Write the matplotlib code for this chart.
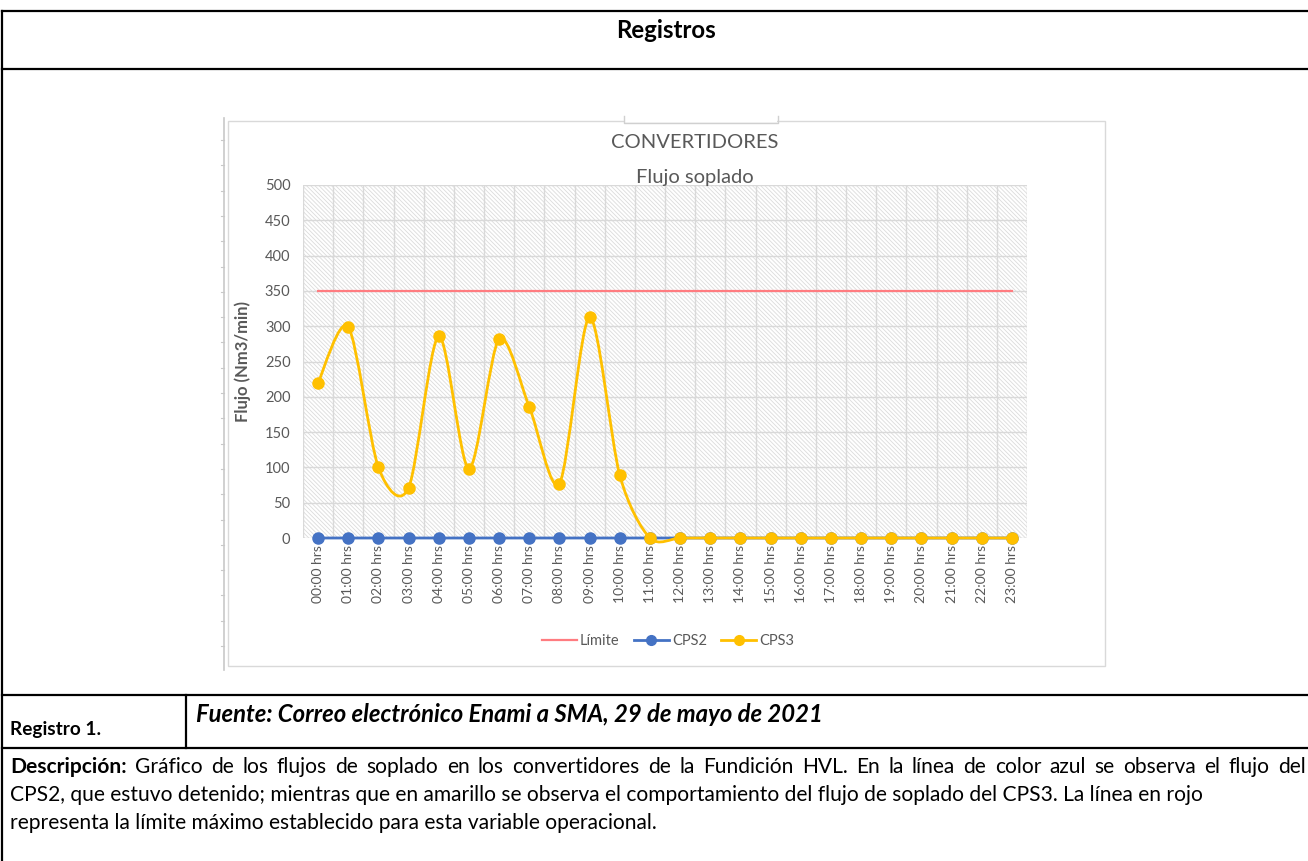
import numpy as np
import matplotlib
matplotlib.use("Agg")
import matplotlib.pyplot as plt
from matplotlib.path import Path
from matplotlib.patches import PathPatch, Rectangle
from matplotlib.lines import Line2D

plt.rcParams['font.family'] = ['Lato', 'DejaVu Sans']
plt.rcParams['hatch.linewidth'] = 0.6

W, H = 1308, 861

# datos del grafico
horas = ["%02d:00 hrs" % h for h in range(24)]
limite = [350] * 24
cps2 = [0] * 24
cps3 = [220, 299, 100, 71, 286, 98, 282, 186, 77, 313, 89, 0,
        0, 0, 0, 0, 0, 0, 0, 0, 0, 0, 0, 0]

titulo = ["CONVERTIDORES", "Flujo soplado"]
ylabel = "Flujo (Nm3/min)"
desc_bold = "Descripción:"
desc_lines = [
    "Gráfico de los flujos de soplado en los convertidores de la Fundición HVL. En la línea de color azul se observa el flujo del",
    "CPS2, que estuvo detenido; mientras que en amarillo se observa el comportamiento del flujo de soplado del CPS3. La línea en rojo",
    "representa la límite máximo establecido para esta variable operacional.",
]

GRAY = '#595959'
RED = '#FF7C80'
BLUE = '#4472C4'
YELLOW = '#FFC000'


def fx(x):
    return x / W


def fy(y):
    return 1 - y / H


def smooth_path(xs, ys, k=7.0):
    # curva suavizada tipo Excel (bezier)
    pts = np.column_stack([xs, ys]).astype(float)
    n = len(pts)
    verts = [pts[0]]
    codes = [Path.MOVETO]
    for i in range(n - 1):
        p0 = pts[max(i - 1, 0)]
        p1 = pts[i]
        p2 = pts[i + 1]
        p3 = pts[min(i + 2, n - 1)]
        c1 = p1 + (p2 - p0) / k
        c2 = p2 - (p3 - p1) / k
        verts += [c1, c2, p2]
        codes += [Path.CURVE4] * 3
    return Path(verts, codes)


fig = plt.figure(figsize=(W / 100, H / 100), dpi=100)
renderer = fig.canvas.get_renderer()


def width(t):
    return t.get_window_extent(renderer).width


def fit(t, target):
    t.set_fontsize(t.get_fontsize() * target / width(t))
    return t


# marco de la tabla del documento
def hline(y, x0, x1, **kw):
    fig.add_artist(Line2D([fx(x0), fx(x1)], [fy(y), fy(y)], **kw))


def vline(x, y0, y1, **kw):
    fig.add_artist(Line2D([fx(x), fx(x)], [fy(y0), fy(y1)], **kw))

tab = dict(color='black', lw=1.6, solid_capstyle='projecting')
hline(11, 2, W + 5, **tab)
hline(69, 2, W + 5, **tab)
hline(695, 2, W + 5, **tab)
hline(748, 2, W + 5, **tab)
vline(2, 11, H + 5, **tab)
vline(186, 695, 748, **tab)

fit(fig.text(fx(666), fy(30), "Registros", ha='center', va='center',
             fontsize=12, fontweight='bold'), 99)

# caja del grafico
fig.add_artist(Rectangle((fx(228), fy(666)), fx(1105) - fx(228), fy(121) - fy(666),
                         facecolor='none', edgecolor='#D9D9D9', lw=1.0))
vline(224, 118, 670, color='#C8C8C8', lw=1.2)
for yy in np.arange(140, 670, 25.3):
    hline(yy, 221, 224, color='#C8C8C8', lw=0.8)
# recuadro del titulo
fig.add_artist(Line2D([fx(624), fx(624), fx(778), fx(778)],
                      [fy(116), fy(123), fy(123), fy(116)],
                      color='#D0D0D0', lw=1.0))
fig.add_artist(Rectangle((fx(625), fy(122)), fx(777) - fx(625), fy(118) - fy(122),
                         facecolor='white', edgecolor='none'))

fig.text(fx(695), fy(142), titulo[0], ha='center', va='center',
         fontsize=14.5, color=GRAY)
fig.text(fx(695), fy(177), titulo[1], ha='center', va='center',
         fontsize=14.5, color=GRAY)

ax = fig.add_axes([fx(303), fy(538), fx(1027) - fx(303), fy(185) - fy(538)])
ax.set_facecolor('white')
ax.add_patch(Rectangle((0, 0), 1, 1, transform=ax.transAxes, facecolor='white',
                       edgecolor='#DCDCDC', hatch='\\' * 8, lw=0, zorder=0))

x = np.arange(len(horas))
ax.set_xlim(-0.5, len(horas) - 0.5)
ax.set_ylim(0, 500)
ax.set_yticks(np.arange(0, 501, 50))
ax.set_xticks(x)
ax.set_xticklabels(horas, rotation=90)
ax.set_xticks(np.arange(-0.5, len(horas), 1), minor=True)
ax.grid(True, which='major', axis='y', color='#D9D9D9', lw=1.0, zorder=1)
ax.grid(True, which='minor', axis='x', color='#D9D9D9', lw=1.0, zorder=1)
for s in ax.spines.values():
    s.set_visible(False)
ax.tick_params(axis='both', which='both', length=0, colors=GRAY)
ax.tick_params(axis='y', labelsize=10.5, pad=9)
ax.tick_params(axis='x', labelsize=10, pad=5)

ax.plot(x, limite, color=RED, lw=1.6, zorder=3, clip_on=False)
ax.add_patch(PathPatch(smooth_path(x, cps2), facecolor='none', edgecolor=BLUE,
                       lw=2.0, zorder=4, clip_on=False))
ax.plot(x, cps2, ls='none', marker='o', ms=8, color=BLUE, zorder=4, clip_on=False)
ax.add_patch(PathPatch(smooth_path(x, cps3), facecolor='none', edgecolor=YELLOW,
                       lw=2.0, zorder=5, clip_on=False))
ax.plot(x, cps3, ls='none', marker='o', ms=8, color=YELLOW, zorder=5, clip_on=False)

fig.text(fx(243), fy(362), ylabel, rotation=90, ha='center', va='center',
         fontsize=12, fontweight='bold', color=GRAY)

handles = [Line2D([], [], color=RED, lw=1.6),
           Line2D([], [], color=BLUE, lw=2.0, marker='o', ms=7),
           Line2D([], [], color=YELLOW, lw=2.0, marker='o', ms=7)]
fig.legend(handles, ["Límite", "CPS2", "CPS3"], loc='center',
           bbox_to_anchor=(fx(668), fy(641)), ncol=3, frameon=False,
           fontsize=10.5, handlelength=2.4, handletextpad=0.2, columnspacing=1.0,
           labelcolor=GRAY)

# fila de registro
fit(fig.text(fx(10), fy(729), "Registro 1.", ha='left', va='center',
             fontsize=12, fontweight='bold'), 90)
fit(fig.text(fx(196), fy(715), "Fuente: Correo electrónico Enami a SMA, 29 de mayo de 2021",
             ha='left', va='center', fontsize=12, fontweight='bold', style='italic'), 626)

# descripcion: tamaño segun la tercera linea, la primera justificada
t3 = fit(fig.text(fx(10), fy(823), desc_lines[2], ha='left', va='center', fontsize=12), 645)
fs = t3.get_fontsize()
fig.text(fx(10), fy(795), desc_lines[1], ha='left', va='center', fontsize=fs)

words = [(desc_bold, 'bold')] + [(w, 'normal') for w in desc_lines[0].split(' ')]
wtexts = [fig.text(0, fy(767), w, ha='left', va='center', fontsize=fs, fontweight=wt)
          for w, wt in words]
ws = [width(t) for t in wtexts]
gap = (1306 - 10 - sum(ws)) / (len(ws) - 1)
xpos = 10
for t, w in zip(wtexts, ws):
    t.set_x(fx(xpos))
    xpos += w + gap

fig.savefig("out.png", dpi=100)
